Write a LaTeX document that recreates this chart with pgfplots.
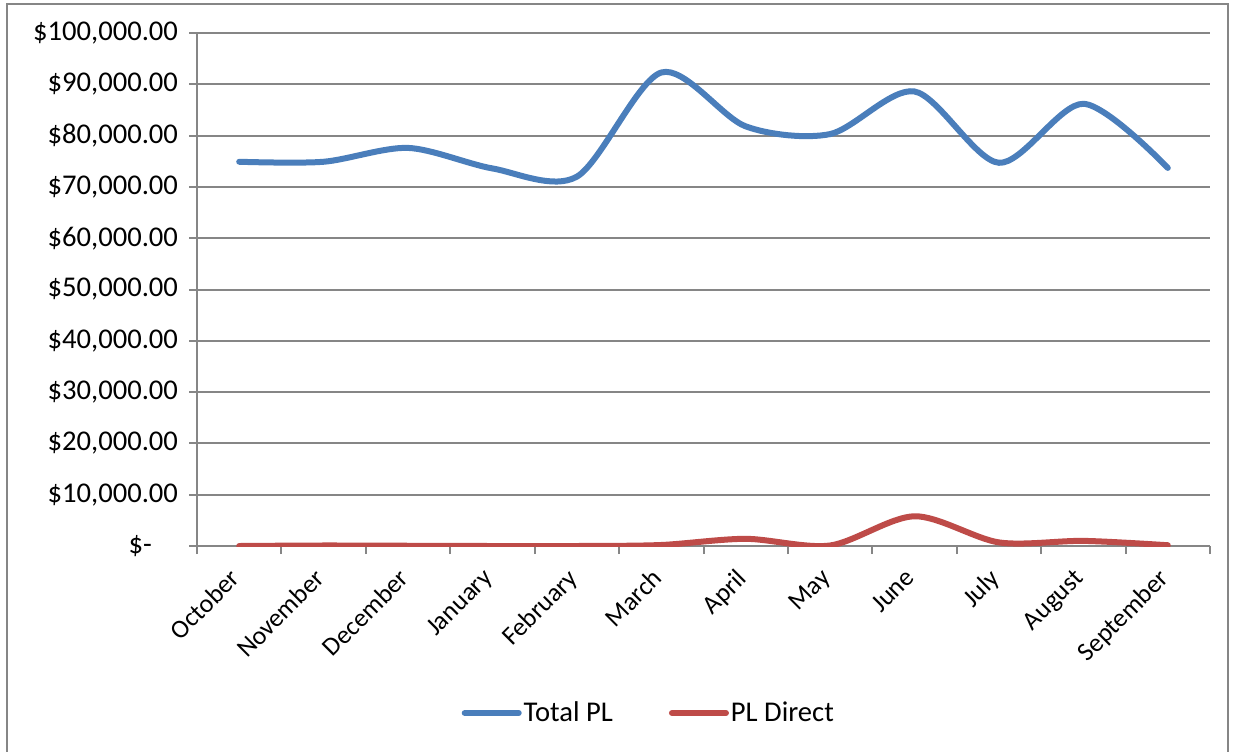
\documentclass[border=0pt]{standalone}
\usepackage{pgfplots}
\pgfplotsset{compat=1.18}
\usepackage{fontspec}
\setmainfont{Carlito}

\definecolor{plblue}{HTML}{4A7EBB}
\definecolor{plred}{HTML}{BE4B48}
\definecolor{gridgrey}{HTML}{868686}

\begin{document}
\begin{tikzpicture}
\useasboundingbox (0,0) rectangle (617pt,375.5pt);
% chart frame (bottom edge falls below the page)
\draw[gridgrey, line width=1pt] (3.5pt,-10pt) -- (3.5pt,373.5pt) -- (614pt,373.5pt) -- (614pt,-10pt);

\begin{axis}[
    at={(98.5pt,102.5pt)}, anchor=south west,
    scale only axis,
    width=506.5pt, height=256.5pt,
    font=\fontsize{14.3}{17}\selectfont,
    /pgf/number format/assume math mode=true,
    scaled y ticks=false,
    xmin=-0.5, xmax=11.5,
    ymin=0, ymax=100000,
    axis lines=left,
    axis line style={-, gridgrey, line width=1pt},
    xtick={0,...,11},
    xticklabels={October,November,December,January,February,March,April,May,June,July,August,September},
    major x tick style={draw=none},
    minor xtick={-0.5,0.5,...,11.5},
    minor x tick style={gridgrey, line width=1pt},
    ytick={0,10000,...,100000},
    yticklabels={{\$-\hspace*{13pt}},{\$10,000.00},{\$20,000.00},{\$30,000.00},{\$40,000.00},{\$50,000.00},{\$60,000.00},{\$70,000.00},{\$80,000.00},{\$90,000.00},{\$100,000.00}},
    y tick style={gridgrey, line width=1pt},
    tick align=outside,
    major tick length=4pt, minor tick length=4pt,
    ymajorgrids,
    major grid style={gridgrey, line width=1pt},
    xticklabel style={rotate=45, anchor=north east, xshift=-5pt, yshift=2.5pt,
        font=\fontsize{13}{15}\selectfont},
    yticklabel style={anchor=east, xshift=-2pt},
    legend columns=2,
    legend style={draw=none, fill=none, at={(0.446,-0.3255)}, anchor=center,
        font=\fontsize{14.3}{17}\selectfont,
        nodes={inner xsep=1pt},
        /tikz/every even column/.append style={column sep=27pt}},
    legend image code/.code={\draw[#1, line cap=round] (0pt,0pt) -- (27pt,0pt);},
]
\addplot[plblue, line width=3pt, smooth, line cap=round] coordinates {
    (0,74900) (1,74900) (2,77600) (3,73600) (4,72000) (5,92300)
    (6,81800) (7,80300) (8,88600) (9,74700) (10,86200) (11,73700)
};
\addlegendentry{Total PL}
\addplot[plred, line width=3pt, smooth, line cap=round] coordinates {
    (0,0) (1,100) (2,50) (3,0) (4,0) (5,200)
    (6,1400) (7,100) (8,5800) (9,700) (10,1000) (11,150)
};
\addlegendentry{PL Direct}
\end{axis}
\end{tikzpicture}
\end{document}
